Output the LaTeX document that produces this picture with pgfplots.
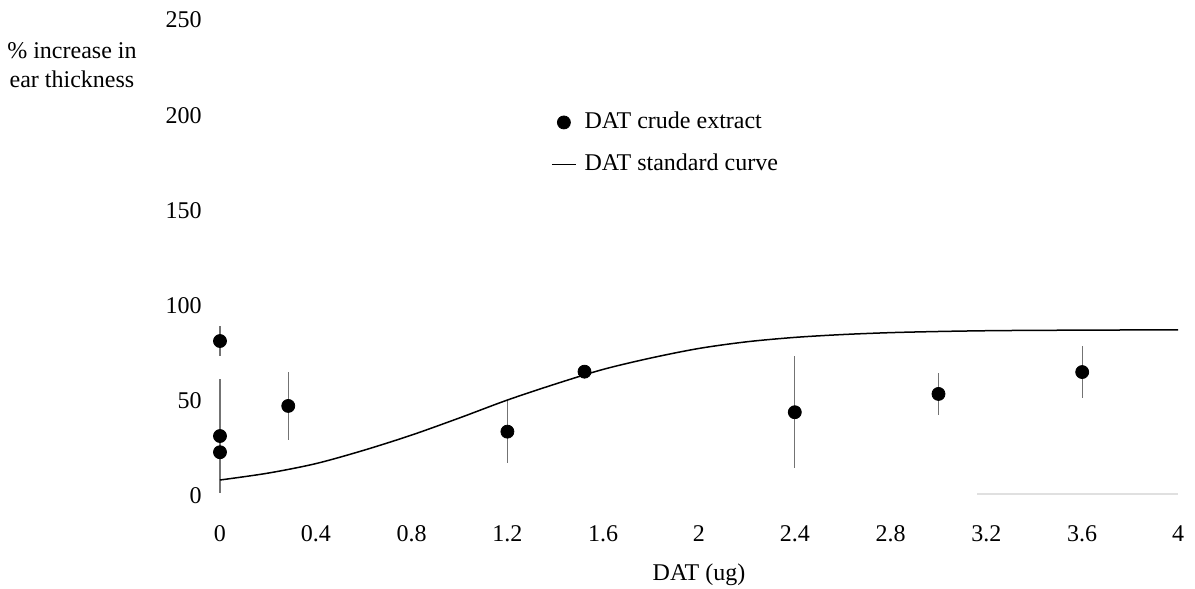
\documentclass[border=0pt,12pt]{standalone}
\usepackage{fontspec}
\setmainfont{Liberation Serif}
\usepackage{pgfplots}
\pgfplotsset{compat=1.18}
\begin{document}
\begin{tikzpicture}
\path[use as bounding box] (-110pt,-46.5pt) rectangle (487.5pt,248pt);
\begin{axis}[
  at={(0,0)}, anchor=south west,
  scale only axis, width=479pt, height=238pt,
  xmin=0, xmax=4, ymin=0, ymax=250,
  clip=false,
  axis line style={draw=none},
  major tick length=0pt,
  xtick={0,0.4,0.8,1.2,1.6,2,2.4,2.8,3.2,3.6,4},
  xticklabels={0,0.4,0.8,1.2,1.6,2,2.4,2.8,3.2,3.6,4},
  ytick={0,50,100,150,200,250},
  /pgf/number format/assume math mode=true,
  tick label style={font=\fontsize{12}{14}\selectfont},
  yticklabel style={xshift=-5pt},
  xticklabel style={yshift=-10.5pt},
  xlabel={DAT (ug)},
  xlabel style={at={(axis description cs:0.5,0)}, anchor=center, yshift=-39.5pt},
  ylabel={\% increase in\\ear thickness},
  every axis y label/.style={at={(axis description cs:0,0)}, anchor=center, align=center, xshift=-74pt, yshift=215.5pt},
  legend style={draw=none, fill=none, at={(axis cs:1.381,202.7)}, anchor=north west, inner sep=0pt, row sep=9pt, column sep=4pt,
    nodes={inner sep=0pt, text height=9pt, text depth=3pt}},
  legend cell align=left,
]
\addplot[only marks, mark=*, mark size=3.25pt, color=black,
  legend image code/.code={\path[draw=none, fill=none] (0pt,0pt) -- (12pt,0pt); \fill[black] (6pt,0pt) circle (3.25pt);},
  error bars/.cd, y dir=both, y explicit, error mark=none,
  error bar style={black!55, line width=0.55pt}]
  coordinates {
  (0,81.4) +- (0,7.7)
  (0,31.5) +- (0,30)
  (0,23) +- (0,4)
  (0.285,47.3) +- (0,17.9)
  (1.2,33.8) +- (0,16.6)
  (1.522,65.3) +- (0,2)
  (2.4,44) +- (0,29.5)
  (3.0,53.6) +- (0,11)
  (3.6,65.1) +- (0,13.5)
  };
\addlegendentry{DAT crude extract}
\addplot[black, line width=0.75pt, smooth,
  legend image code/.code={\draw[black, line width=0.75pt] (0pt,0pt) -- (12pt,0pt);}]
  coordinates {
  (0,8.4) (0.2,12) (0.4,17) (0.6,24) (0.8,32) (1.0,41) (1.2,50.4) (1.4,58.8)
  (1.6,66.5) (1.8,72.5) (2.0,77.5) (2.2,81) (2.4,83.3) (2.6,84.8) (2.8,85.8)
  (3.0,86.4) (3.2,86.8) (3.4,87.0) (3.6,87.1) (3.8,87.2) (4.0,87.2)
  };
\addlegendentry{DAT standard curve}
\draw[black!12, line width=0.6pt] (axis cs:3.16,1) -- (axis cs:4.0,1);
\end{axis}
\end{tikzpicture}
\end{document}
